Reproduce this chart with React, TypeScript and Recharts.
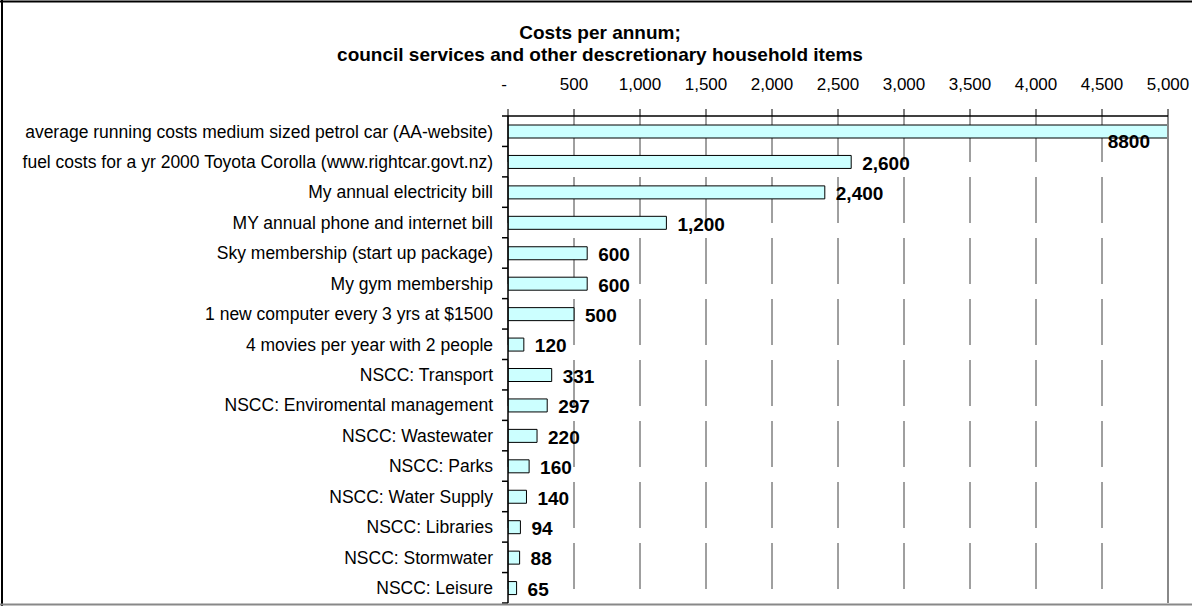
import React from 'react';
import { BarChart, Bar, XAxis, YAxis, CartesianGrid, LabelList, ReferenceLine } from 'recharts';

const categories = [
  'average running costs medium sized petrol car (AA-website)',
  'fuel costs for a yr 2000 Toyota Corolla (www.rightcar.govt.nz)',
  'My annual electricity bill',
  'MY annual phone and internet bill',
  'Sky membership (start up package)',
  'My gym membership',
  '1 new computer every 3 yrs at $1500',
  '4 movies per year with 2 people',
  'NSCC: Transport',
  'NSCC: Enviromental management',
  'NSCC: Wastewater',
  'NSCC: Parks',
  'NSCC: Water Supply',
  'NSCC: Libraries',
  'NSCC: Stormwater',
  'NSCC: Leisure',
];
const costs = [8800, 2600, 2400, 1200, 600, 600, 500, 120, 331, 297, 220, 160, 140, 94, 88, 65];
const xTicks = [0, 500, 1000, 1500, 2000, 2500, 3000, 3500, 4000, 4500, 5000];
const X_MAX = 5000;
const titleLines = ['Costs per annum;', 'council services and other descretionary household items'];

const data = categories.map((name, i) => ({ name, cost: costs[i] }));

const FONT = "'Liberation Sans', Arial, sans-serif";
const W = 1192;
const H = 606;

const CategoryTick = (props: any) => {
  const { x, y, payload, index } = props;
  const off = payload && typeof payload.offset === 'number' ? payload.offset : 15.2;
  const isLast = index === categories.length - 1;
  return (
    <g>
      <line x1={x - 6} y1={y - off} x2={x} y2={y - off} stroke="#000" strokeWidth={1.5} />
      {isLast && <line x1={x - 6} y1={y + off} x2={x} y2={y + off} stroke="#000" strokeWidth={1.5} />}
      <text x={x - 15} y={y} dy="0.36em" textAnchor="end" fontFamily={FONT} fontSize={17.5} fill="#000">
        {payload.value}
      </text>
    </g>
  );
};

const ValueTick = (props: any) => {
  const { x, y, payload } = props;
  const v = payload.value;
  const label = v === 0 ? '-' : Number(v).toLocaleString('en-US');
  return (
    <text x={x + (v === 0 ? -4 : 0)} y={y} textAnchor="middle" fontFamily={FONT} fontSize={17} fill="#000">
      {label}
    </text>
  );
};

const ValueLabel = (props: any) => {
  const { x, y, width, height, value } = props;
  const cy = y + height / 2;
  if (value > X_MAX) {
    const xEnd = x + (width * X_MAX) / value;
    return (
      <text x={xEnd - 18} y={cy + 10} dy="0.36em" textAnchor="end" fontFamily={FONT} fontSize={19} fontWeight="bold" fill="#000">
        {String(value)}
      </text>
    );
  }
  return (
    <text x={x + width + 11} y={cy + 1} dy="0.36em" textAnchor="start" fontFamily={FONT} fontSize={19} fontWeight="bold" fill="#000">
      {Number(value).toLocaleString('en-US')}
    </text>
  );
};

export default function App() {
  return (
    <div style={{ position: 'absolute', left: 0, top: 0, width: W, height: H, background: '#fff', fontFamily: FONT, overflow: 'hidden' }}>
      <BarChart
        width={W}
        height={H}
        data={data}
        layout="vertical"
        margin={{ top: 86, right: 24, bottom: 3, left: 0 }}
      >
        <CartesianGrid horizontal={false} vertical stroke="#404040" strokeDasharray="46 15" />
        <XAxis
          type="number"
          orientation="top"
          domain={[0, X_MAX]}
          ticks={xTicks}
          allowDataOverflow
          interval={0}
          height={30}
          tickSize={7}
          tickMargin={19}
          tick={<ValueTick />}
          axisLine={{ stroke: '#000', strokeWidth: 1.5 }}
          tickLine={{ stroke: '#000', strokeWidth: 1 }}
        />
        <YAxis
          type="category"
          dataKey="name"
          width={508}
          interval={0}
          tickSize={0}
          tickMargin={0}
          tickLine={false}
          tick={<CategoryTick />}
          axisLine={{ stroke: '#000', strokeWidth: 1.5 }}
        />
        <ReferenceLine x={X_MAX} stroke="#888" strokeWidth={2} />
        <Bar dataKey="cost" fill="#CCFFFF" stroke="#000" strokeWidth={1} barSize={13} isAnimationActive={false}>
          <LabelList dataKey="cost" content={<ValueLabel />} />
        </Bar>
      </BarChart>
      <svg width={W} height={H} style={{ position: 'absolute', left: 0, top: 0, pointerEvents: 'none' }}>
        <text x={600} y={39} textAnchor="middle" fontFamily={FONT} fontSize={19} fontWeight="bold" fill="#000">
          {titleLines[0]}
        </text>
        <text x={600} y={61} textAnchor="middle" fontFamily={FONT} fontSize={19} fontWeight="bold" fill="#000">
          {titleLines[1]}
        </text>
        <line x1={0} y1={1.5} x2={W} y2={1.5} stroke="#000" strokeWidth={2} />
        <line x1={2} y1={0} x2={2} y2={H} stroke="#000" strokeWidth={2} />
        <line x1={0} y1={604.5} x2={W} y2={604.5} stroke="#888" strokeWidth={2} />
      </svg>
    </div>
  );
}
